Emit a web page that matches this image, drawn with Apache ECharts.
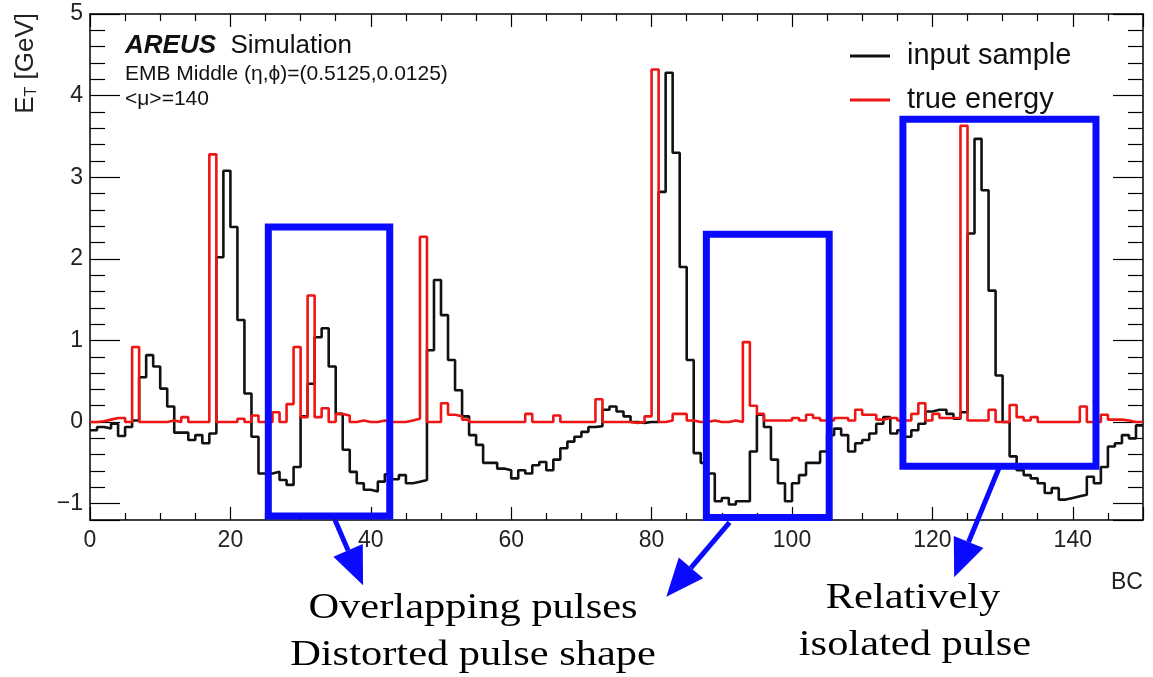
<!DOCTYPE html>
<html>
<head>
<meta charset="utf-8">
<script src="https://cdn.jsdelivr.net/npm/echarts@6/dist/echarts.min.js"></script>
<style>
    html, body { margin: 0; padding: 0; background: #fff; }
    #main { width: 1153px; height: 677px; }
</style>
</head>
<body>
<div id="main"></div>
<script>
// E_T per bunch crossing (BC 0..149)
const inputSample = [
    -0.10, -0.06, -0.08, -0.02, -0.17, -0.06, 0.02, 0.55, 0.82, 0.68,
    0.41, 0.19, -0.13, -0.13, -0.22, -0.16, -0.26, -0.14, 2.02, 3.08,
    2.39, 1.25, 0.35, -0.18, -0.63, -0.63, -0.61, -0.71, -0.77, -0.55,
    0.07, 0.47, 1.04, 1.15, 0.68, 0.10, -0.34, -0.61, -0.75, -0.83,
    -0.85, -0.73, -0.64, -0.70, -0.65, -0.75, -0.73, -0.71, 0.88, 1.74,
    1.31, 0.76, 0.39, 0.07, -0.16, -0.28, -0.50, -0.50, -0.57, -0.59,
    -0.69, -0.59, -0.63, -0.53, -0.49, -0.59, -0.46, -0.32, -0.24, -0.18,
    -0.12, -0.06, -0.05, 0.15, 0.19, 0.13, 0.07, 0.00, -0.01, 0.00,
    0.00, 2.82, 4.28, 3.30, 1.90, 0.76, -0.38, -0.50, -0.63, -0.97,
    -0.93, -1.01, -0.97, -0.97, -0.36, 0.09, -0.06, -0.46, -0.75, -0.97,
    -0.75, -0.65, -0.50, -0.50, -0.36, -0.16, -0.08, -0.16, -0.36, -0.26,
    -0.22, -0.14, -0.02, 0.06, -0.14, -0.10, -0.18, -0.10, -0.02, 0.13,
    0.15, 0.15, 0.10, 0.04, 0.12, 2.31, 3.47, 2.84, 1.61, 0.57,
    0.00, -0.42, -0.59, -0.65, -0.69, -0.75, -0.87, -0.81, -0.95, -0.93,
    -0.91, -0.89, -0.67, -0.75, -0.55, -0.30, -0.26, -0.16, -0.20, -0.04
];
const trueEnergy = [
    0.00, 0.01, 0.03, 0.05, 0.05, 0.00, 0.92, 0.00, 0.00, 0.00,
    0.00, 0.02, 0.00, 0.06, 0.00, 0.00, 0.00, 3.28, 0.00, 0.00,
    0.00, 0.04, 0.00, 0.08, 0.00, 0.00, 0.12, 0.00, 0.22, 0.92,
    0.06, 1.55, 0.06, 0.17, 0.00, 0.10, 0.08, 0.00, 0.02, 0.00,
    0.00, 0.02, 0.00, 0.00, 0.00, 0.02, 0.04, 2.27, 0.00, 0.00,
    0.23, 0.09, 0.07, 0.03, 0.00, 0.00, 0.00, 0.00, 0.00, 0.00,
    0.00, 0.00, 0.10, 0.00, 0.00, 0.00, 0.08, 0.00, 0.00, 0.00,
    0.00, 0.00, 0.28, 0.00, 0.00, 0.00, 0.00, -0.01, 0.00, 0.07,
    4.32, 0.00, 0.02, 0.10, 0.10, 0.02, 0.00, 0.00, 0.02, 0.00,
    0.00, 0.02, 0.00, 0.98, 0.20, 0.10, 0.02, 0.02, 0.02, 0.02,
    0.05, 0.02, 0.09, 0.05, 0.02, 0.02, 0.05, 0.05, 0.02, 0.15,
    0.09, 0.09, 0.03, 0.05, 0.05, 0.02, 0.02, 0.10, 0.23, 0.02,
    0.10, 0.05, 0.05, 0.05, 3.63, 0.02, 0.02, 0.02, 0.15, 0.00,
    0.00, 0.21, 0.06, 0.02, 0.06, 0.00, 0.00, 0.00, 0.00, 0.00,
    0.00, 0.19, 0.00, 0.00, 0.09, 0.03, 0.03, 0.02, 0.00, 0.00
];
const xTickLabels = [0, 20, 40, 60, 80, 100, 120, 140];
const yTickLabels = [-1, 0, 1, 2, 3, 4, 5];
const seriesNames = ['input sample', 'true energy'];

// annotation boxes [BC from, BC to, E_T low, E_T high]
const boxes = [
    [25.4, 42.7, -1.15, 2.39],
    [87.8, 105.3, -1.17, 2.30],
    [115.8, 143.3, -0.54, 3.71]
];
// arrows [from BC, from E_T, to BC, to E_T]
const arrows = [
    [34.9, -1.20, 38.9, -2.00],
    [91.1, -1.23, 82.1, -2.14],
    [129.5, -0.56, 123.1, -1.90]
];

const BLUE = '#0a0aff';
const RED = '#ee1515';
const SANS = 'Liberation Sans, Arial, sans-serif';
const SERIF = 'Liberation Serif, Times New Roman, serif';

// histogram as step line: value holds over [i, i+1]
function toSteps(values) {
    const pts = values.map((v, i) => [i, v]);
    pts.push([values.length, values[values.length - 1]]);
    return pts;
}

const chart = echarts.init(document.getElementById('main'));

const xBase = {
    type: 'value',
    min: 0,
    max: 150,
    interval: xTickLabels[1] - xTickLabels[0],
    axisLine: { show: true, onZero: false, lineStyle: { color: '#000', width: 1.5 } },
    axisTick: { show: true, inside: true, length: 13, lineStyle: { color: '#000', width: 1.2 } },
    minorTick: { show: true, splitNumber: 4, length: 7, lineStyle: { color: '#000', width: 1.2 } },
    splitLine: { show: false }
};
const yBase = {
    type: 'value',
    min: -1.2,
    max: 5,
    splitNumber: 6,
    axisLine: { show: true, onZero: false, lineStyle: { color: '#000', width: 1.5 } },
    axisTick: { show: true, inside: true, length: 30, lineStyle: { color: '#000', width: 1.2 } },
    minorTick: { show: true, splitNumber: 5, length: 15, lineStyle: { color: '#000', width: 1.2 } },
    splitLine: { show: false }
};

const option = {
    animation: false,
    backgroundColor: '#fff',
    grid: { left: 90, right: 10, top: 14, bottom: 157 },
    legend: {
        data: seriesNames,
        orient: 'vertical',
        left: 845,
        top: 35,
        itemWidth: 40,
        itemHeight: 3,
        itemGap: 12,
        icon: 'rect',
        textStyle: { fontFamily: SANS, fontSize: 29, color: '#111', padding: [0, 0, 0, 12], lineHeight: 32 }
    },
    xAxis: [
        Object.assign({}, xBase, {
            position: 'bottom',
            axisLabel: {
                show: true, margin: 9, fontFamily: SANS, fontSize: 23, color: '#222',
                formatter: v => xTickLabels.includes(v) ? String(v) : ''
            }
        }),
        Object.assign({}, xBase, { position: 'top', axisLabel: { show: false } })
    ],
    yAxis: [
        Object.assign({}, yBase, {
            position: 'left',
            axisLabel: {
                show: true, margin: 7, fontFamily: SANS, fontSize: 23, color: '#222',
                formatter: v => yTickLabels.includes(v) ? String(v).replace('-', '\u2212') : ''
            }
        }),
        Object.assign({}, yBase, { position: 'right', axisLabel: { show: false } })
    ],
    series: [
        {
            name: seriesNames[0],
            type: 'line',
            step: 'end',
            showSymbol: false,
            symbol: 'none',
            color: '#111',
            lineStyle: { color: '#111', width: 2.6 },
            data: toSteps(inputSample)
        },
        {
            name: seriesNames[1],
            type: 'line',
            step: 'end',
            showSymbol: false,
            symbol: 'none',
            color: RED,
            lineStyle: { color: RED, width: 2.6 },
            data: toSteps(trueEnergy),
            markArea: {
                silent: true,
                z: 5,
                itemStyle: { color: 'rgba(0,0,0,0)', borderColor: BLUE, borderWidth: 7 },
                data: boxes.map(b => [{ coord: [b[0], b[3]] }, { coord: [b[1], b[2]] }])
            }
        }
    ]
};
chart.setOption(option);

// annotation arrows and texts
function arrowShapes(a) {
    const p0 = chart.convertToPixel({ seriesIndex: 0 }, [a[0], a[1]]);
    const p1 = chart.convertToPixel({ seriesIndex: 0 }, [a[2], a[3]]);
    const dx = p1[0] - p0[0], dy = p1[1] - p0[1];
    const len = Math.hypot(dx, dy);
    const ux = dx / len, uy = dy / len;
    const headLen = 38, headHalf = 16;
    const bx = p1[0] - ux * headLen, by = p1[1] - uy * headLen;
    return [
        { type: 'line', z: 10, shape: { x1: p0[0], y1: p0[1], x2: bx, y2: by }, style: { stroke: BLUE, lineWidth: 5 } },
        {
            type: 'polygon', z: 10,
            shape: { points: [[p1[0], p1[1]], [bx - uy * headHalf, by + ux * headHalf], [bx + uy * headHalf, by - ux * headHalf]] },
            style: { fill: BLUE }
        }
    ];
}

let graphics = [];
arrows.forEach(a => { graphics = graphics.concat(arrowShapes(a)); });

function serifText(text, x, y) {
    return {
        type: 'text', x: x, y: y, scaleX: 1.18, z: 10,
        style: { text: text, font: '36px ' + SERIF, fill: '#000', align: 'center', verticalAlign: 'middle' }
    };
}

graphics.push(
    {
        type: 'text', left: 125, top: 33, z: 10,
        style: {
            text: '{a|AREUS}  Simulation',
            font: '26px ' + SANS, fill: '#111',
            rich: { a: { fontFamily: SANS, fontSize: 26, fontWeight: 'bold', fontStyle: 'italic', fill: '#111' } }
        }
    },
    { type: 'text', left: 125, top: 64, z: 10, style: { text: 'EMB Middle (\u03b7,\u03d5)=(0.5125,0.0125)', font: '21px ' + SANS, fill: '#111' } },
    { type: 'text', left: 125, top: 89, z: 10, style: { text: '<\u03bc>=140', font: '21px ' + SANS, fill: '#111' } },
    {
        type: 'text', x: 26, y: 13, rotation: Math.PI / 2, z: 10,
        style: {
            text: 'E{s|T} [GeV]', font: '26px ' + SANS, fill: '#222', align: 'right', verticalAlign: 'middle',
            rich: { s: { fontFamily: SANS, fontSize: 16, fill: '#222', padding: [12, 0, 0, 0] } }
        }
    },
    { type: 'text', x: 1127, y: 583, z: 10, style: { text: 'BC', font: '23px ' + SANS, fill: '#222', align: 'center', verticalAlign: 'middle' } },
    serifText('Overlapping pulses', 473, 609),
    serifText('Distorted pulse shape', 473, 656),
    serifText('Relatively', 913, 599),
    serifText('isolated pulse', 915, 646)
);

chart.setOption({ graphic: graphics });
</script>
</body>
</html>
